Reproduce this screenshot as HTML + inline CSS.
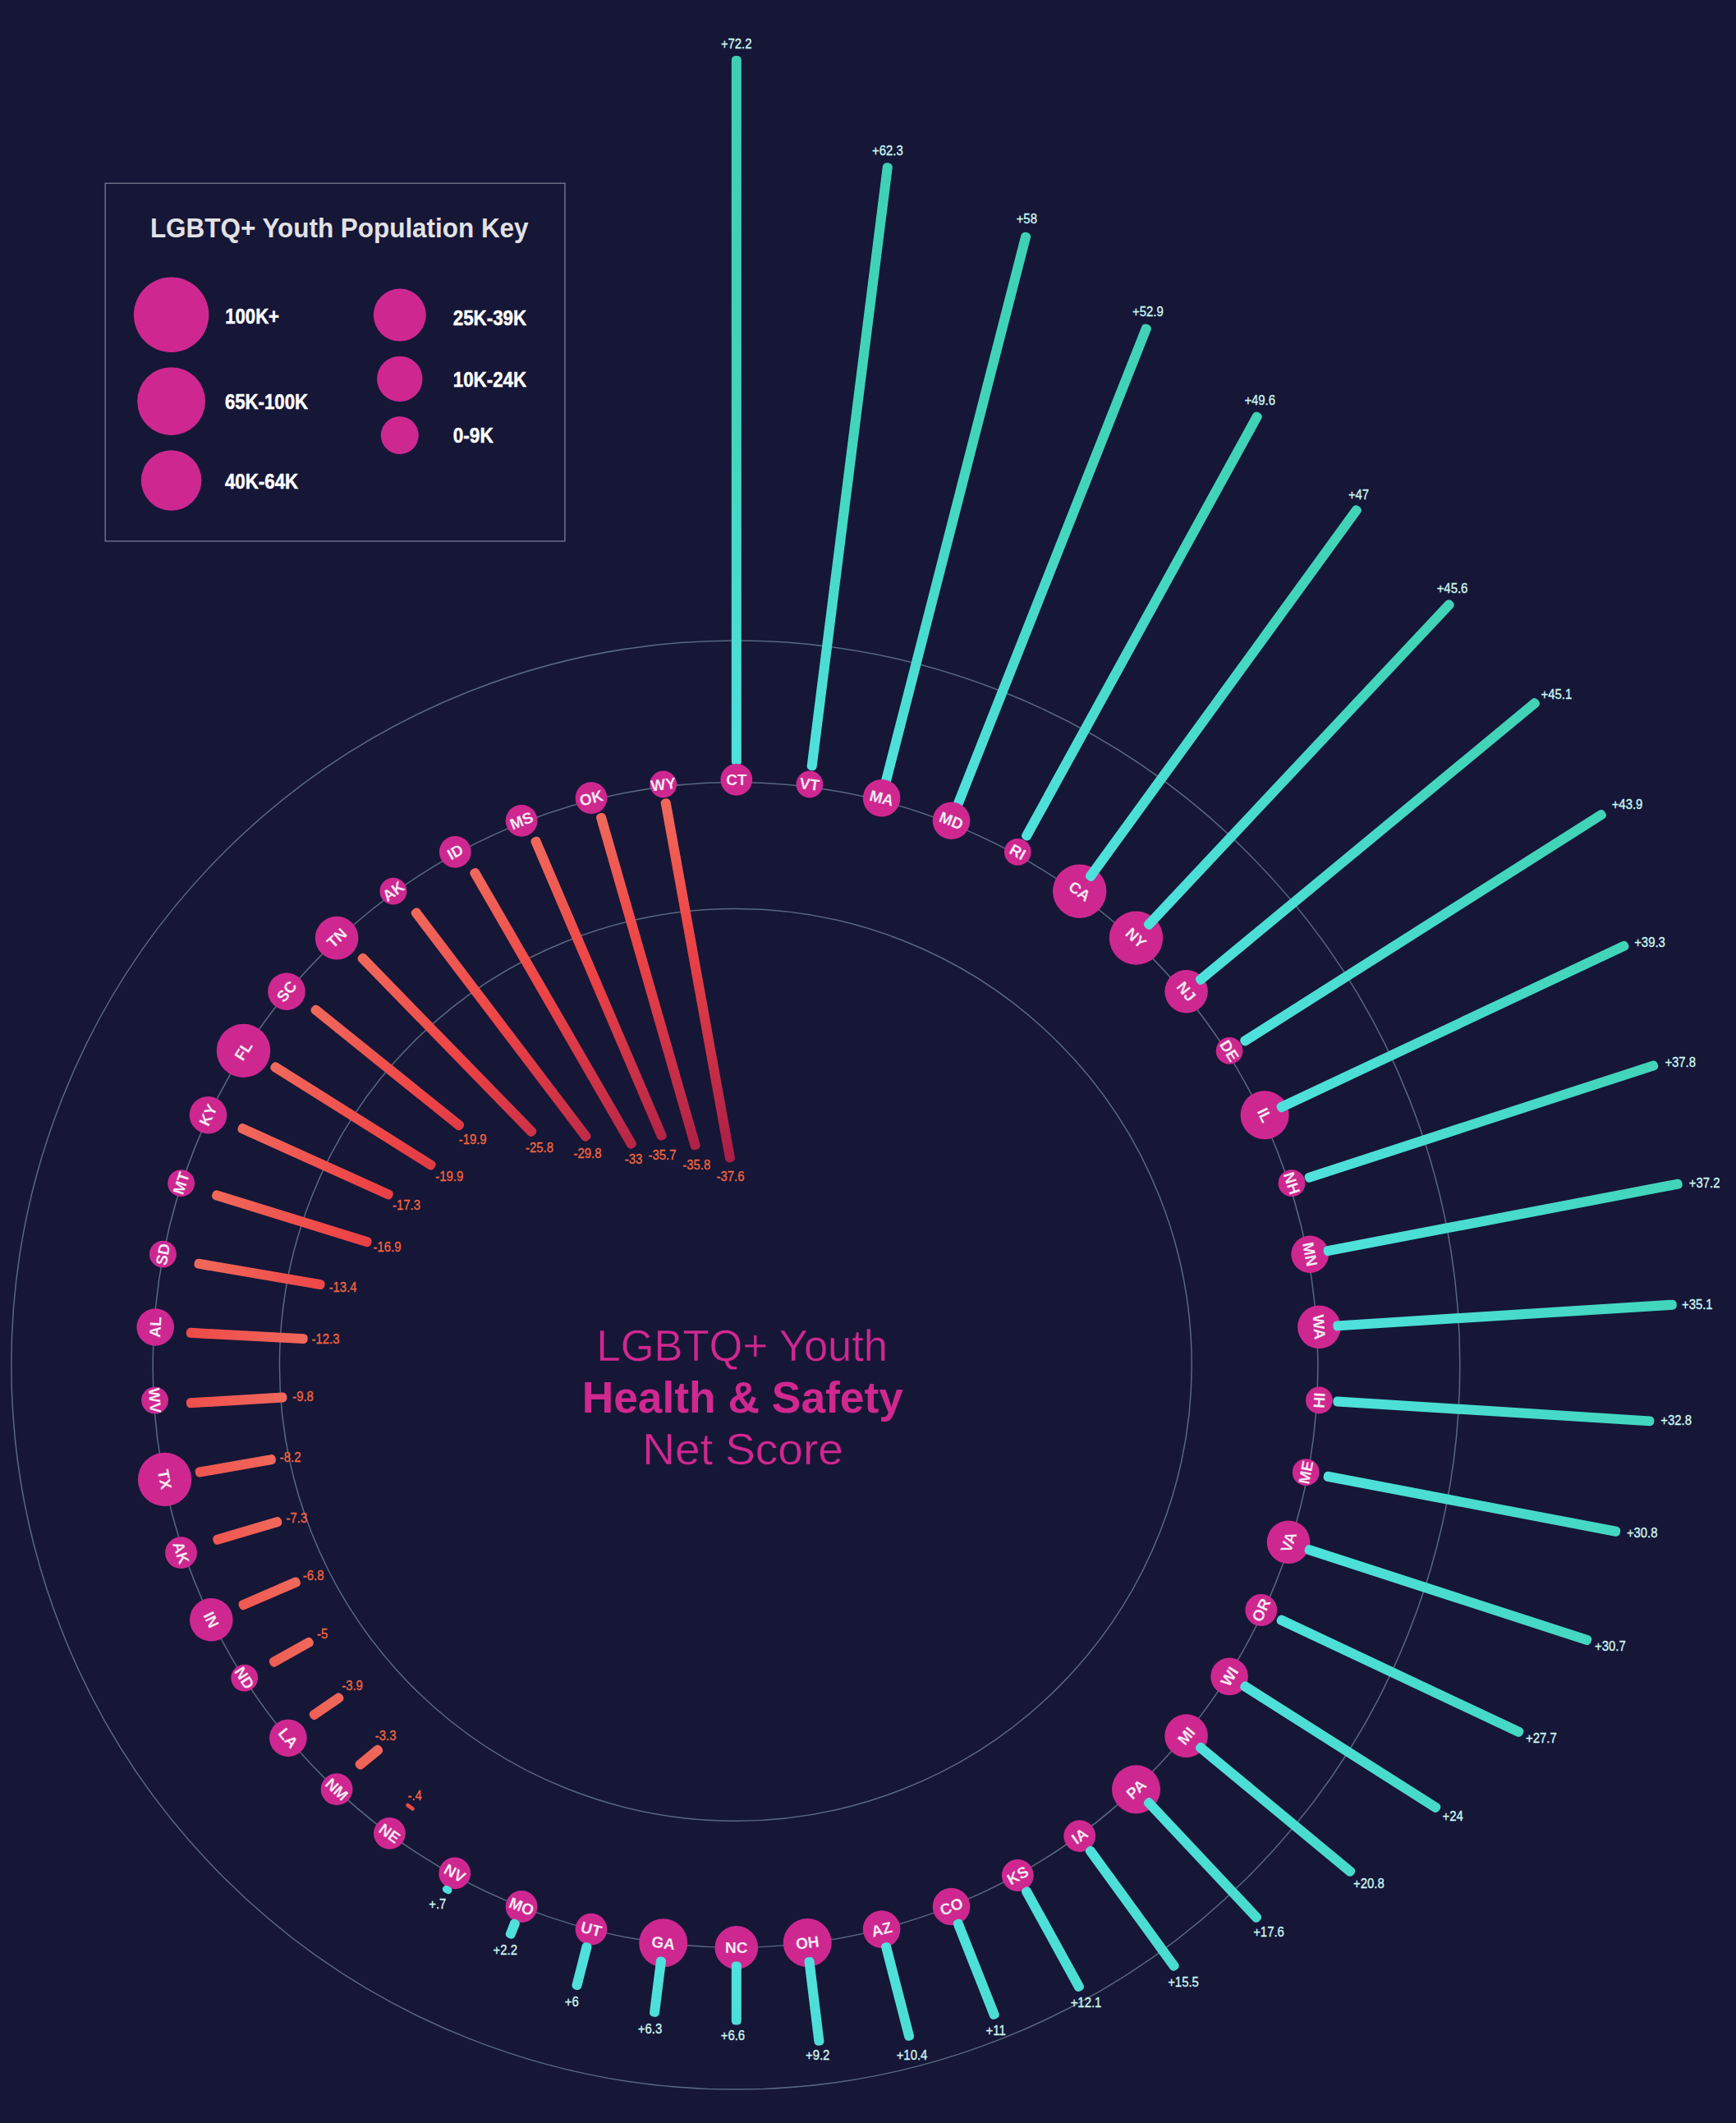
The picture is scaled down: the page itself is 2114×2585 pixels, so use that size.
<!DOCTYPE html>
<html lang="en"><head><meta charset="utf-8"><title>LGBTQ+ Youth Health &amp; Safety Net Score</title>
<style>html,body{margin:0;padding:0;background:#161637}svg{display:block}text{font-family:"Liberation Sans",sans-serif}.st{font-weight:700;font-size:19px;fill:#F4EAF3;text-anchor:middle}.pv{font-size:17px;fill:#CDF7F1;stroke:#CDF7F1;stroke-width:.35px;text-anchor:middle}.nv{font-size:17px;fill:#F0653F;stroke:#F0653F;stroke-width:.35px;text-anchor:middle}.lk{font-weight:700;font-size:26.2px;fill:#ffffff;stroke:#ffffff;stroke-width:.5px}</style></head><body>
<svg width="2114" height="2585" viewBox="0 0 2114 2585">
<rect width="2114" height="2585" fill="#161637"/>
<defs>
<linearGradient id="gp" gradientUnits="userSpaceOnUse" x1="0.0" y1="0" x2="870.0" y2="0"><stop offset="0" stop-color="#4FE1DC"/><stop offset="0.52" stop-color="#41D4B9"/><stop offset="1" stop-color="#3ECFB3"/></linearGradient>
<linearGradient id="g31" gradientUnits="userSpaceOnUse" x1="38.9" y1="0" x2="-413.1" y2="0"><stop offset="0" stop-color="#F0695B"/><stop offset="0.38" stop-color="#EE4446"/><stop offset="1" stop-color="#A81D47"/></linearGradient>
<linearGradient id="g32" gradientUnits="userSpaceOnUse" x1="47.2" y1="0" x2="-404.8" y2="0"><stop offset="0" stop-color="#F0695B"/><stop offset="0.38" stop-color="#EE4446"/><stop offset="1" stop-color="#A81D47"/></linearGradient>
<linearGradient id="g33" gradientUnits="userSpaceOnUse" x1="59.4" y1="0" x2="-392.6" y2="0"><stop offset="0" stop-color="#F0695B"/><stop offset="0.38" stop-color="#EE4446"/><stop offset="1" stop-color="#A81D47"/></linearGradient>
<linearGradient id="g34" gradientUnits="userSpaceOnUse" x1="80.4" y1="0" x2="-371.6" y2="0"><stop offset="0" stop-color="#F0695B"/><stop offset="0.38" stop-color="#EE4446"/><stop offset="1" stop-color="#A81D47"/></linearGradient>
<linearGradient id="g35" gradientUnits="userSpaceOnUse" x1="86.8" y1="0" x2="-365.2" y2="0"><stop offset="0" stop-color="#F0695B"/><stop offset="0.38" stop-color="#EE4446"/><stop offset="1" stop-color="#A81D47"/></linearGradient>
<linearGradient id="g36" gradientUnits="userSpaceOnUse" x1="99.3" y1="0" x2="-352.7" y2="0"><stop offset="0" stop-color="#F0695B"/><stop offset="0.38" stop-color="#EE4446"/><stop offset="1" stop-color="#A81D47"/></linearGradient>
<linearGradient id="g37" gradientUnits="userSpaceOnUse" x1="122.7" y1="0" x2="-329.3" y2="0"><stop offset="0" stop-color="#F0695B"/><stop offset="0.38" stop-color="#EE4446"/><stop offset="1" stop-color="#A81D47"/></linearGradient>
<linearGradient id="g38" gradientUnits="userSpaceOnUse" x1="147.9" y1="0" x2="-304.1" y2="0"><stop offset="0" stop-color="#F0695B"/><stop offset="0.38" stop-color="#EE4446"/><stop offset="1" stop-color="#A81D47"/></linearGradient>
<linearGradient id="gn" gradientUnits="userSpaceOnUse" x1="0.0" y1="0" x2="452.0" y2="0"><stop offset="0" stop-color="#F0695B"/><stop offset="0.38" stop-color="#EE4446"/><stop offset="1" stop-color="#A81D47"/></linearGradient>
</defs>
<g fill="none" stroke="#58687F" stroke-width="1.5">
<circle cx="895.8" cy="1662.1" r="882"/>
<circle cx="895.5" cy="1662" r="709.4"/>
<circle cx="895.8" cy="1661.9" r="555.4"/>
</g>
<g>
<rect x="0" y="-6.0" width="864.4" height="12.0" rx="5.0" fill="url(#gp)" transform="translate(896.8 932.4) rotate(-90.00)"/>
<rect x="0" y="-6.0" width="694.0" height="12.0" rx="5.0" fill="url(#gp)" transform="translate(1077.8 955.3) rotate(-75.60)"/>
<rect x="0" y="-6.0" width="632.8" height="12.0" rx="5.0" fill="url(#gp)" transform="translate(1164.8 983.5) rotate(-68.40)"/>
</g>
<g fill="#CE2890">
<circle cx="896.8" cy="949.4" r="19.4"/>
<circle cx="985.9" cy="955.0" r="16.4"/>
<circle cx="1073.6" cy="971.7" r="22.8"/>
<circle cx="1158.5" cy="999.3" r="22.8"/>
<circle cx="1239.3" cy="1037.3" r="16.4"/>
<circle cx="1314.7" cy="1085.2" r="32.7"/>
<circle cx="1383.5" cy="1142.1" r="32.7"/>
<circle cx="1444.6" cy="1207.2" r="26.3"/>
<circle cx="1497.1" cy="1279.4" r="16.4"/>
<circle cx="1540.1" cy="1357.7" r="29.5"/>
<circle cx="1573.0" cy="1440.7" r="16.4"/>
<circle cx="1595.2" cy="1527.2" r="22.8"/>
<circle cx="1606.4" cy="1615.8" r="26.3"/>
<circle cx="1606.4" cy="1705.0" r="16.4"/>
<circle cx="1590.2" cy="1792.7" r="16.4"/>
<circle cx="1569.0" cy="1877.7" r="26.3"/>
<circle cx="1535.8" cy="1960.5" r="19.4"/>
<circle cx="1497.1" cy="2041.4" r="22.8"/>
<circle cx="1444.6" cy="2113.6" r="26.3"/>
<circle cx="1383.5" cy="2178.7" r="29.5"/>
<circle cx="1314.7" cy="2235.6" r="19.4"/>
<circle cx="1239.3" cy="2283.5" r="19.4"/>
<circle cx="1158.5" cy="2321.5" r="22.8"/>
<circle cx="1073.6" cy="2349.1" r="22.8"/>
<circle cx="983.2" cy="2365.5" r="29.5"/>
<circle cx="896.8" cy="2371.4" r="26.3"/>
<circle cx="807.7" cy="2365.8" r="29.5"/>
<circle cx="720.0" cy="2349.1" r="19.4"/>
<circle cx="635.1" cy="2321.5" r="19.4"/>
<circle cx="553.7" cy="2280.9" r="19.4"/>
<circle cx="474.4" cy="2232.4" r="19.4"/>
<circle cx="410.1" cy="2178.7" r="19.4"/>
<circle cx="350.9" cy="2116.2" r="22.8"/>
<circle cx="297.7" cy="2043.1" r="16.4"/>
<circle cx="257.3" cy="1972.3" r="26.3"/>
<circle cx="220.5" cy="1890.7" r="19.4"/>
<circle cx="200.6" cy="1801.4" r="32.7"/>
<circle cx="188.6" cy="1705.1" r="16.4"/>
<circle cx="189.2" cy="1616.0" r="22.8"/>
<circle cx="198.4" cy="1527.2" r="16.4"/>
<circle cx="220.6" cy="1440.7" r="16.4"/>
<circle cx="253.5" cy="1357.7" r="22.8"/>
<circle cx="296.5" cy="1279.4" r="32.7"/>
<circle cx="349.0" cy="1207.2" r="22.8"/>
<circle cx="410.1" cy="1142.1" r="26.3"/>
<circle cx="478.9" cy="1085.2" r="16.4"/>
<circle cx="554.3" cy="1037.3" r="19.4"/>
<circle cx="635.1" cy="999.3" r="19.4"/>
<circle cx="720.0" cy="971.7" r="19.4"/>
<circle cx="807.7" cy="955.0" r="16.4"/>
</g>
<g>
<rect x="0" y="-6.0" width="745.6" height="12.0" rx="5.0" fill="url(#gp)" transform="translate(988.0 938.1) rotate(-82.80)"/>
<rect x="0" y="-6.0" width="593.2" height="12.0" rx="5.0" fill="url(#gp)" transform="translate(1247.5 1022.4) rotate(-61.20)"/>
<rect x="0" y="-6.0" width="562.0" height="12.0" rx="5.0" fill="url(#gp)" transform="translate(1324.7 1071.4) rotate(-54.00)"/>
<rect x="0" y="-6.0" width="545.2" height="12.0" rx="5.0" fill="url(#gp)" transform="translate(1395.2 1129.7) rotate(-46.80)"/>
<rect x="0" y="-6.0" width="539.2" height="12.0" rx="5.0" fill="url(#gp)" transform="translate(1457.7 1196.4) rotate(-39.60)"/>
<rect x="0" y="-6.0" width="524.8" height="12.0" rx="5.0" fill="url(#gp)" transform="translate(1511.5 1270.3) rotate(-32.40)"/>
<rect x="0" y="-6.0" width="472.0" height="12.0" rx="5.0" fill="url(#gp)" transform="translate(1555.5 1350.4) rotate(-25.20)"/>
<rect x="0" y="-6.0" width="451.6" height="12.0" rx="5.0" fill="url(#gp)" transform="translate(1589.2 1435.4) rotate(-18.00)"/>
<rect x="0" y="-6.0" width="444.4" height="12.0" rx="5.0" fill="url(#gp)" transform="translate(1611.9 1524.0) rotate(-10.80)"/>
<rect x="0" y="-6.0" width="419.2" height="12.0" rx="5.0" fill="url(#gp)" transform="translate(1623.4 1614.7) rotate(-3.60)"/>
<rect x="0" y="-6.0" width="391.6" height="12.0" rx="5.0" fill="url(#gp)" transform="translate(1623.4 1706.1) rotate(3.60)"/>
<rect x="0" y="-6.0" width="367.6" height="12.0" rx="5.0" fill="url(#gp)" transform="translate(1611.9 1796.8) rotate(10.80)"/>
<rect x="0" y="-6.0" width="366.4" height="12.0" rx="5.0" fill="url(#gp)" transform="translate(1589.2 1885.4) rotate(18.00)"/>
<rect x="0" y="-6.0" width="330.4" height="12.0" rx="5.0" fill="url(#gp)" transform="translate(1555.5 1970.4) rotate(25.20)"/>
<rect x="0" y="-6.0" width="286.0" height="12.0" rx="5.0" fill="url(#gp)" transform="translate(1511.5 2050.5) rotate(32.40)"/>
<rect x="0" y="-6.0" width="247.6" height="12.0" rx="5.0" fill="url(#gp)" transform="translate(1457.7 2124.4) rotate(39.60)"/>
<rect x="0" y="-6.0" width="202.5" height="12.0" rx="5.0" fill="url(#gp)" transform="translate(1395.2 2191.1) rotate(46.80)"/>
<rect x="0" y="-6.0" width="184.0" height="12.0" rx="5.0" fill="url(#gp)" transform="translate(1324.7 2249.4) rotate(54.00)"/>
<rect x="0" y="-6.0" width="143.2" height="12.0" rx="5.0" fill="url(#gp)" transform="translate(1247.5 2298.4) rotate(61.20)"/>
<rect x="0" y="-6.0" width="130.0" height="12.0" rx="5.0" fill="url(#gp)" transform="translate(1164.8 2337.3) rotate(68.40)"/>
<rect x="0" y="-6.0" width="122.8" height="12.0" rx="5.0" fill="url(#gp)" transform="translate(1077.8 2365.5) rotate(75.60)"/>
<rect x="0" y="-6.0" width="108.4" height="12.0" rx="5.0" fill="url(#gp)" transform="translate(984.9 2383.1) rotate(83.05)"/>
<rect x="0" y="-6.0" width="77.2" height="12.0" rx="5.0" fill="url(#gp)" transform="translate(896.8 2388.4) rotate(90.00)"/>
<rect x="0" y="-6.0" width="73.6" height="12.0" rx="5.0" fill="url(#gp)" transform="translate(805.6 2382.7) rotate(97.20)"/>
<rect x="0" y="-6.0" width="59.0" height="12.0" rx="5.0" fill="url(#gp)" transform="translate(715.8 2365.5) rotate(104.40)"/>
<rect x="0" y="-6.0" width="24.4" height="12.0" rx="5.0" fill="url(#gp)" transform="translate(628.8 2337.3) rotate(111.60)"/>
<rect x="0" y="-6.0" width="9.0" height="12.0" rx="4.5" fill="url(#gp)" transform="translate(546.8 2297.0) rotate(118.80)"/>
<rect x="0" y="-6.0" width="4.7" height="12.0" rx="2.4" fill="#EF4A44" transform="translate(498.1 2202.1) rotate(-53.62)"/>
<rect x="0" y="-6.0" width="38.9" height="12.0" rx="5.0" fill="url(#g31)" transform="translate(434.3 2152.0) rotate(-39.37)"/>
<rect x="0" y="-6.0" width="47.2" height="12.0" rx="5.0" fill="url(#g32)" transform="translate(378.1 2091.0) rotate(-34.46)"/>
<rect x="0" y="-6.0" width="59.4" height="12.0" rx="5.0" fill="url(#g33)" transform="translate(328.9 2026.2) rotate(-29.24)"/>
<rect x="0" y="-6.0" width="80.4" height="12.0" rx="5.0" fill="url(#g34)" transform="translate(291.3 1956.3) rotate(-23.38)"/>
<rect x="0" y="-6.0" width="86.8" height="12.0" rx="5.0" fill="url(#g35)" transform="translate(259.6 1876.2) rotate(-16.53)"/>
<rect x="0" y="-6.0" width="99.3" height="12.0" rx="5.0" fill="url(#g36)" transform="translate(237.9 1793.4) rotate(-9.97)"/>
<rect x="0" y="-6.0" width="122.7" height="12.0" rx="5.0" fill="url(#g37)" transform="translate(226.9 1708.6) rotate(-3.50)"/>
<rect x="0" y="-6.0" width="147.9" height="12.0" rx="5.0" fill="url(#g38)" transform="translate(226.9 1622.6) rotate(3.02)"/>
<rect x="0" y="-6.0" width="160.9" height="12.0" rx="5.0" fill="url(#gn)" transform="translate(236.7 1537.8) rotate(9.70)"/>
<rect x="0" y="-6.0" width="202.7" height="12.0" rx="5.0" fill="url(#gn)" transform="translate(258.5 1453.8) rotate(17.19)"/>
<rect x="0" y="-6.0" width="206.0" height="12.0" rx="5.0" fill="url(#gn)" transform="translate(290.3 1371.9) rotate(24.31)"/>
<rect x="0" y="-6.0" width="234.7" height="12.0" rx="5.0" fill="url(#gn)" transform="translate(330.6 1296.5) rotate(32.15)"/>
<rect x="0" y="-6.0" width="235.1" height="12.0" rx="5.0" fill="url(#gn)" transform="translate(380.2 1226.3) rotate(38.82)"/>
<rect x="0" y="-6.0" width="305.6" height="12.0" rx="5.0" fill="url(#gn)" transform="translate(437.8 1162.9) rotate(45.76)"/>
<rect x="0" y="-6.0" width="352.8" height="12.0" rx="5.0" fill="url(#gn)" transform="translate(503.5 1107.1) rotate(52.82)"/>
<rect x="0" y="-6.0" width="391.8" height="12.0" rx="5.0" fill="url(#gn)" transform="translate(575.6 1058.2) rotate(60.00)"/>
<rect x="0" y="-6.0" width="400.5" height="12.0" rx="5.0" fill="url(#gn)" transform="translate(650.4 1019.5) rotate(66.87)"/>
<rect x="0" y="-6.0" width="426.0" height="12.0" rx="5.0" fill="url(#gn)" transform="translate(730.6 990.3) rotate(74.00)"/>
<rect x="0" y="-6.0" width="449.8" height="12.0" rx="5.0" fill="url(#gn)" transform="translate(809.8 972.5) rotate(79.75)"/>
</g>
<g>
<text class="st" transform="translate(896.8 949.4) rotate(0.0)" y="6.6">CT</text>
<text class="st" transform="translate(985.9 955.0) rotate(7.2)" y="6.6">VT</text>
<text class="st" transform="translate(1073.6 971.7) rotate(14.4)" y="6.6">MA</text>
<text class="st" transform="translate(1158.5 999.3) rotate(21.6)" y="6.6">MD</text>
<text class="st" transform="translate(1239.3 1037.3) rotate(28.8)" y="6.6">RI</text>
<text class="st" transform="translate(1314.7 1085.2) rotate(36.0)" y="6.6">CA</text>
<text class="st" transform="translate(1383.5 1142.1) rotate(43.2)" y="6.6">NY</text>
<text class="st" transform="translate(1444.6 1207.2) rotate(50.4)" y="6.6">NJ</text>
<text class="st" transform="translate(1497.1 1279.4) rotate(57.6)" y="6.6">DE</text>
<text class="st" transform="translate(1540.1 1357.7) rotate(64.8)" y="6.6">IL</text>
<text class="st" transform="translate(1573.0 1440.7) rotate(72.0)" y="6.6">NH</text>
<text class="st" transform="translate(1595.2 1527.2) rotate(79.2)" y="6.6">MN</text>
<text class="st" transform="translate(1606.4 1615.8) rotate(86.4)" y="6.6">WA</text>
<text class="st" transform="translate(1606.4 1705.0) rotate(-86.4)" y="6.6">HI</text>
<text class="st" transform="translate(1590.2 1792.7) rotate(-79.2)" y="6.6">ME</text>
<text class="st" transform="translate(1569.0 1877.7) rotate(-72.0)" y="6.6">VA</text>
<text class="st" transform="translate(1535.8 1960.5) rotate(-64.8)" y="6.6">OR</text>
<text class="st" transform="translate(1497.1 2041.4) rotate(-57.6)" y="6.6">WI</text>
<text class="st" transform="translate(1444.6 2113.6) rotate(-50.4)" y="6.6">MI</text>
<text class="st" transform="translate(1383.5 2178.7) rotate(-43.2)" y="6.6">PA</text>
<text class="st" transform="translate(1314.7 2235.6) rotate(-36.0)" y="6.6">IA</text>
<text class="st" transform="translate(1239.3 2283.5) rotate(-28.8)" y="6.6">KS</text>
<text class="st" transform="translate(1158.5 2321.5) rotate(-21.6)" y="6.6">CO</text>
<text class="st" transform="translate(1073.6 2349.1) rotate(-14.4)" y="6.6">AZ</text>
<text class="st" transform="translate(983.2 2365.5) rotate(-7.2)" y="6.6">OH</text>
<text class="st" transform="translate(896.8 2371.4) rotate(0.0)" y="6.6">NC</text>
<text class="st" transform="translate(807.7 2365.8) rotate(7.2)" y="6.6">GA</text>
<text class="st" transform="translate(720.0 2349.1) rotate(14.4)" y="6.6">UT</text>
<text class="st" transform="translate(635.1 2321.5) rotate(21.6)" y="6.6">MO</text>
<text class="st" transform="translate(553.7 2280.9) rotate(28.8)" y="6.6">NV</text>
<text class="st" transform="translate(474.4 2232.4) rotate(36.0)" y="6.6">NE</text>
<text class="st" transform="translate(410.1 2178.7) rotate(43.2)" y="6.6">NM</text>
<text class="st" transform="translate(350.9 2116.2) rotate(50.4)" y="6.6">LA</text>
<text class="st" transform="translate(297.7 2043.1) rotate(57.6)" y="6.6">ND</text>
<text class="st" transform="translate(257.3 1972.3) rotate(64.8)" y="6.6">IN</text>
<text class="st" transform="translate(220.5 1890.7) rotate(72.0)" y="6.6">AK</text>
<text class="st" transform="translate(200.6 1801.4) rotate(79.2)" y="6.6">TX</text>
<text class="st" transform="translate(188.6 1705.1) rotate(86.4)" y="6.6">WV</text>
<text class="st" transform="translate(189.2 1616.0) rotate(273.6)" y="6.6">AL</text>
<text class="st" transform="translate(198.4 1527.2) rotate(280.8)" y="6.6">SD</text>
<text class="st" transform="translate(220.6 1440.7) rotate(288.0)" y="6.6">MT</text>
<text class="st" transform="translate(253.5 1357.7) rotate(295.2)" y="6.6">KY</text>
<text class="st" transform="translate(296.5 1279.4) rotate(302.4)" y="6.6">FL</text>
<text class="st" transform="translate(349.0 1207.2) rotate(309.6)" y="6.6">SC</text>
<text class="st" transform="translate(410.1 1142.1) rotate(316.8)" y="6.6">TN</text>
<text class="st" transform="translate(478.9 1085.2) rotate(324.0)" y="6.6">AK</text>
<text class="st" transform="translate(554.3 1037.3) rotate(331.2)" y="6.6">ID</text>
<text class="st" transform="translate(635.1 999.3) rotate(338.4)" y="6.6">MS</text>
<text class="st" transform="translate(720.0 971.7) rotate(345.6)" y="6.6">OK</text>
<text class="st" transform="translate(807.7 955.0) rotate(352.8)" y="6.6">WY</text>
</g>
<g>
<text class="pv" transform="translate(896.7 59.4) scale(0.875 1)">+72.2</text>
<text class="pv" transform="translate(1080.9 188.5) scale(0.875 1)">+62.3</text>
<text class="pv" transform="translate(1250.3 271.9) scale(0.875 1)">+58</text>
<text class="pv" transform="translate(1397.9 385.2) scale(0.875 1)">+52.9</text>
<text class="pv" transform="translate(1534.2 493.3) scale(0.875 1)">+49.6</text>
<text class="pv" transform="translate(1654.5 608.1) scale(0.875 1)">+47</text>
<text class="pv" transform="translate(1768.5 722.2) scale(0.875 1)">+45.6</text>
<text class="pv" transform="translate(1895.4 850.5) scale(0.875 1)">+45.1</text>
<text class="pv" transform="translate(1981.5 984.8) scale(0.875 1)">+43.9</text>
<text class="pv" transform="translate(2009.0 1152.8) scale(0.875 1)">+39.3</text>
<text class="pv" transform="translate(2046.2 1298.6) scale(0.875 1)">+37.8</text>
<text class="pv" transform="translate(2075.6 1445.8) scale(0.875 1)">+37.2</text>
<text class="pv" transform="translate(2066.8 1593.7) scale(0.875 1)">+35.1</text>
<text class="pv" transform="translate(2041.1 1734.8) scale(0.875 1)">+32.8</text>
<text class="pv" transform="translate(1999.7 1871.9) scale(0.875 1)">+30.8</text>
<text class="pv" transform="translate(1960.9 2010.1) scale(0.875 1)">+30.7</text>
<text class="pv" transform="translate(1876.9 2121.9) scale(0.875 1)">+27.7</text>
<text class="pv" transform="translate(1769.1 2217.0) scale(0.875 1)">+24</text>
<text class="pv" transform="translate(1666.9 2298.6) scale(0.875 1)">+20.8</text>
<text class="pv" transform="translate(1545.0 2358.3) scale(0.875 1)">+17.6</text>
<text class="pv" transform="translate(1441.0 2419.2) scale(0.875 1)">+15.5</text>
<text class="pv" transform="translate(1322.5 2444.3) scale(0.875 1)">+12.1</text>
<text class="pv" transform="translate(1212.6 2477.6) scale(0.875 1)">+11</text>
<text class="pv" transform="translate(1110.5 2507.9) scale(0.875 1)">+10.4</text>
<text class="pv" transform="translate(995.7 2508.0) scale(0.875 1)">+9.2</text>
<text class="pv" transform="translate(892.4 2484.4) scale(0.875 1)">+6.6</text>
<text class="pv" transform="translate(791.5 2475.8) scale(0.875 1)">+6.3</text>
<text class="pv" transform="translate(696.3 2442.9) scale(0.875 1)">+6</text>
<text class="pv" transform="translate(615.3 2380.0) scale(0.875 1)">+2.2</text>
<text class="pv" transform="translate(532.8 2323.7) scale(0.875 1)">+.7</text>
<text class="nv" transform="translate(505.2 2192.1) scale(0.875 1)">-.4</text>
<text class="nv" transform="translate(469.6 2118.6) scale(0.875 1)">-3.3</text>
<text class="nv" transform="translate(429.0 2057.9) scale(0.875 1)">-3.9</text>
<text class="nv" transform="translate(392.6 1995.1) scale(0.875 1)">-5</text>
<text class="nv" transform="translate(381.6 1923.9) scale(0.875 1)">-6.8</text>
<text class="nv" transform="translate(361.4 1854.0) scale(0.875 1)">-7.3</text>
<text class="nv" transform="translate(353.6 1779.7) scale(0.875 1)">-8.2</text>
<text class="nv" transform="translate(369.0 1705.8) scale(0.875 1)">-9.8</text>
<text class="nv" transform="translate(396.5 1636.4) scale(0.875 1)">-12.3</text>
<text class="nv" transform="translate(417.6 1572.7) scale(0.875 1)">-13.4</text>
<text class="nv" transform="translate(471.5 1524.0) scale(0.875 1)">-16.9</text>
<text class="nv" transform="translate(495.0 1472.8) scale(0.875 1)">-17.3</text>
<text class="nv" transform="translate(547.3 1437.8) scale(0.875 1)">-19.9</text>
<text class="nv" transform="translate(575.7 1393.3) scale(0.875 1)">-19.9</text>
<text class="nv" transform="translate(657.0 1403.2) scale(0.875 1)">-25.8</text>
<text class="nv" transform="translate(715.5 1410.1) scale(0.875 1)">-29.8</text>
<text class="nv" transform="translate(771.6 1416.8) scale(0.875 1)">-33</text>
<text class="nv" transform="translate(806.5 1412.0) scale(0.875 1)">-35.7</text>
<text class="nv" transform="translate(848.3 1424.0) scale(0.875 1)">-35.8</text>
<text class="nv" transform="translate(889.5 1437.8) scale(0.875 1)">-37.6</text>
</g>
<g fill="#D0288F" text-anchor="middle" font-size="54.5px">
<text x="903.8" y="1657.2" stroke="#161637" stroke-width=".5" textLength="354.5" lengthAdjust="spacingAndGlyphs">LGBTQ+ Youth</text>
<text x="904.3" y="1720" font-weight="700" textLength="391.2" lengthAdjust="spacingAndGlyphs">Health &amp; Safety</text>
<text x="904.6" y="1783" stroke="#161637" stroke-width=".5" textLength="244.5" lengthAdjust="spacingAndGlyphs">Net Score</text>
</g>
<rect x="128.2" y="223.2" width="559.7" height="435.7" fill="none" stroke="#74758B" stroke-width="1.4"/>
<text x="182.9" y="288.6" font-weight="700" font-size="32.4px" fill="#E2E2E4" textLength="460.7" lengthAdjust="spacingAndGlyphs">LGBTQ+ Youth Population Key</text>
<g fill="#CE2890">
<circle cx="208.6" cy="383.2" r="45.7"/>
<circle cx="208.6" cy="488.6" r="41.4"/>
<circle cx="208.6" cy="585.0" r="36.8"/>
<circle cx="486.8" cy="383.6" r="32.0"/>
<circle cx="486.8" cy="461.4" r="27.7"/>
<circle cx="486.8" cy="530.0" r="23.0"/>
</g>
<text class="lk" x="274.3" y="393.9" textLength="65.7" lengthAdjust="spacingAndGlyphs">100K+</text>
<text class="lk" x="273.9" y="498.2" textLength="101.1" lengthAdjust="spacingAndGlyphs">65K-100K</text>
<text class="lk" x="273.9" y="595.4" textLength="89.3" lengthAdjust="spacingAndGlyphs">40K-64K</text>
<text class="lk" x="551.8" y="395.7" textLength="89.3" lengthAdjust="spacingAndGlyphs">25K-39K</text>
<text class="lk" x="551.8" y="471.4" textLength="89.3" lengthAdjust="spacingAndGlyphs">10K-24K</text>
<text class="lk" x="551.8" y="539.3" textLength="48.9" lengthAdjust="spacingAndGlyphs">0-9K</text>
</svg></body></html>
